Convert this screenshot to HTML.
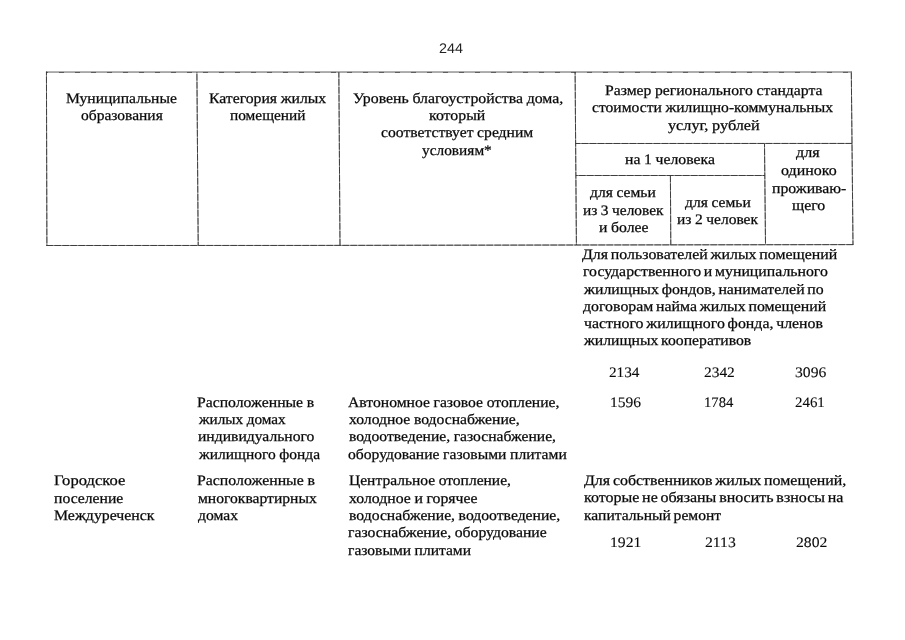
<!DOCTYPE html>
<html lang="ru">
<head>
<meta charset="utf-8">
<title>244</title>
<style>
html,body{margin:0;padding:0;background:#fff;}
body{width:905px;height:640px;position:relative;overflow:hidden;font-family:"Liberation Serif","DejaVu Serif",serif;font-size:14.5px;line-height:18px;color:#0a0a0a;-webkit-text-stroke:0.25px #0a0a0a;text-rendering:geometricPrecision;}
#pg{position:absolute;left:0;top:0;width:905px;height:640px;will-change:transform;}
.t{position:absolute;white-space:nowrap;margin:0;transform-origin:0 0;word-spacing:-1.1px;}
.n{-webkit-text-stroke-width:0.1px;}
.h{word-spacing:-0.3px;}
.p{font-family:"Liberation Sans","DejaVu Sans",sans-serif;font-size:14px;-webkit-text-stroke-width:0;color:#222;}
svg{position:absolute;left:0;top:0;}
</style>
</head>
<body>
<div id="pg">
<svg width="905" height="640" viewBox="0 0 905 640" fill="none">
<g stroke="#808080" stroke-width="1">
<polyline points="46.4,245.5 300,245.45 576.4,245 853.4,244.6"/>
<polyline points="46.45,71.6 46.9,245.9"/>
<polyline points="196.9,72 198.2,245.5"/>
<polyline points="338.85,72 340,245.3"/>
<polyline points="575.1,72 576.4,245"/>
<polyline points="851.3,71.5 853,245"/>
<polyline points="575.6,143.5 852.2,143.45"/>
<polyline points="575.9,175.5 765,175.5"/>
<polyline points="670.4,175.5 670.8,244.8"/>
<polyline points="764.5,143.5 765.5,244.7"/>
</g>
<g stroke="#2e2e2e" stroke-width="0.8" stroke-dasharray="6.6 1.4">
<polyline stroke-dashoffset="0" points="46.4,245.5 300,245.45 576.4,245 853.4,244.6"/>
<polyline stroke-dashoffset="3" points="46.45,71.6 46.9,245.9"/>
<polyline stroke-dashoffset="6" points="196.9,72 198.2,245.5"/>
<polyline stroke-dashoffset="1" points="338.85,72 340,245.3"/>
<polyline stroke-dashoffset="4" points="575.1,72 576.4,245"/>
<polyline stroke-dashoffset="7" points="851.3,71.5 853,245"/>
<polyline stroke-dashoffset="2" points="575.6,143.5 852.2,143.45"/>
<polyline stroke-dashoffset="5" points="575.9,175.5 765,175.5"/>
<polyline stroke-dashoffset="0" points="670.4,175.5 670.8,244.8"/>
<polyline stroke-dashoffset="3" points="764.5,143.5 765.5,244.7"/>
</g>
<polyline stroke="#5c5c5c" stroke-width="1" points="46,72.05 852,72"/>
<polyline stroke="#222" stroke-width="0.6" stroke-dasharray="5 11" stroke-dashoffset="3" points="46,72.45 852,72.4"/>
</svg>
<div class="t p" style="left:439.40px;top:39px;transform:scaleX(1.0250)">244</div>
<div class="t h" style="left:65.83px;top:90px;transform:scaleX(1.0765)">Муниципальные</div>
<div class="t h" style="left:80.83px;top:107px;transform:scaleX(1.0692)">образования</div>
<div class="t h" style="left:209.34px;top:90px;transform:scaleX(1.0837)">Категория жилых</div>
<div class="t h" style="left:230.33px;top:107px;transform:scaleX(1.0604)">помещений</div>
<div class="t h" style="left:352.84px;top:90px;transform:scaleX(1.0920)">Уровень благоустройства дома,</div>
<div class="t h" style="left:428.84px;top:107px;transform:scaleX(1.0922)">который</div>
<div class="t h" style="left:380.83px;top:124px;transform:scaleX(1.0790)">соответствует средним</div>
<div class="t h" style="left:421.83px;top:142px;transform:scaleX(1.0596)">условиям*</div>
<div class="t h" style="left:604.84px;top:82px;transform:scaleX(1.0808)">Размер регионального стандарта</div>
<div class="t h" style="left:592.33px;top:99px;transform:scaleX(1.0766)">стоимости жилищно-коммунальных</div>
<div class="t h" style="left:667.84px;top:117px;transform:scaleX(1.1189)">услуг, рублей</div>
<div class="t h" style="left:625.34px;top:151px;transform:scaleX(1.0864)">на 1 человека</div>
<div class="t h" style="left:795.84px;top:144px;transform:scaleX(1.1115)">для</div>
<div class="t h" style="left:780.84px;top:162px;transform:scaleX(1.1002)">одиноко</div>
<div class="t h" style="left:771.84px;top:180px;transform:scaleX(1.0864)">проживаю-</div>
<div class="t h" style="left:792.34px;top:197px;transform:scaleX(1.0941)">щего</div>
<div class="t h" style="left:590.33px;top:184px;transform:scaleX(1.0746)">для семьи</div>
<div class="t h" style="left:582.83px;top:202px;transform:scaleX(1.0617)">из 3 человек</div>
<div class="t h" style="left:599.34px;top:219px;transform:scaleX(1.0849)">и более</div>
<div class="t h" style="left:684.83px;top:194px;transform:scaleX(1.0746)">для семьи</div>
<div class="t h" style="left:677.33px;top:211px;transform:scaleX(1.0682)">из 2 человек</div>
<div class="t" style="left:582.34px;top:246px;transform:scaleX(1.0952)">Для пользователей жилых помещений</div>
<div class="t" style="left:583.34px;top:263px;transform:scaleX(1.0894)">государственного и муниципального</div>
<div class="t" style="left:583.93px;top:281px;transform:scaleX(1.0904)">жилищных фондов, нанимателей по</div>
<div class="t" style="left:582.84px;top:298px;transform:scaleX(1.0928)">договорам найма жилых помещений</div>
<div class="t" style="left:583.64px;top:315px;transform:scaleX(1.0947)">частного жилищного фонда, членов</div>
<div class="t" style="left:583.92px;top:332px;transform:scaleX(1.0829)">жилищных кооперативов</div>
<div class="t n" style="left:609.08px;top:364px;transform:scaleX(1.0517)">2134</div>
<div class="t n" style="left:704.08px;top:364px;transform:scaleX(1.0621)">2342</div>
<div class="t n" style="left:794.83px;top:364px;transform:scaleX(1.0793)">3096</div>
<div class="t n" style="left:609.51px;top:394px;transform:scaleX(1.0732)">1596</div>
<div class="t n" style="left:704.32px;top:394px;transform:scaleX(1.0103)">1784</div>
<div class="t n" style="left:794.83px;top:394px;transform:scaleX(1.0276)">2461</div>
<div class="t h" style="left:197.34px;top:394px;transform:scaleX(1.0843)">Расположенные в</div>
<div class="t h" style="left:199.13px;top:411px;transform:scaleX(1.0516)">жилых домах</div>
<div class="t h" style="left:198.08px;top:428px;transform:scaleX(1.0773)">индивидуального</div>
<div class="t h" style="left:199.15px;top:446px;transform:scaleX(1.0687)">жилищного фонда</div>
<div class="t h" style="left:347.83px;top:394px;transform:scaleX(1.0795)">Автономное газовое отопление,</div>
<div class="t h" style="left:348.58px;top:411px;transform:scaleX(1.0787)">холодное водоснабжение,</div>
<div class="t h" style="left:348.58px;top:428px;transform:scaleX(1.0753)">водоотведение, газоснабжение,</div>
<div class="t h" style="left:348.33px;top:446px;transform:scaleX(1.0775)">оборудование газовыми плитами</div>
<div class="t h" style="left:54.09px;top:472px;transform:scaleX(1.1416)">Городское</div>
<div class="t h" style="left:54.34px;top:490px;transform:scaleX(1.0820)">поселение</div>
<div class="t h" style="left:54.09px;top:507px;transform:scaleX(1.0919)">Междуреченск</div>
<div class="t h" style="left:197.34px;top:472px;transform:scaleX(1.0912)">Расположенные в</div>
<div class="t h" style="left:198.33px;top:490px;transform:scaleX(1.0762)">многоквартирных</div>
<div class="t h" style="left:198.33px;top:507px;transform:scaleX(1.0770)">домах</div>
<div class="t h" style="left:348.58px;top:472px;transform:scaleX(1.0707)">Центральное отопление,</div>
<div class="t h" style="left:348.59px;top:490px;transform:scaleX(1.0876)">холодное и горячее</div>
<div class="t h" style="left:348.59px;top:507px;transform:scaleX(1.0810)">водоснабжение, водоотведение,</div>
<div class="t h" style="left:348.34px;top:524px;transform:scaleX(1.0837)">газоснабжение, оборудование</div>
<div class="t h" style="left:348.33px;top:542px;transform:scaleX(1.0720)">газовыми плитами</div>
<div class="t" style="left:583.84px;top:472px;transform:scaleX(1.0974)">Для собственников жилых помещений,</div>
<div class="t" style="left:584.34px;top:489px;transform:scaleX(1.1025)">которые не обязаны вносить взносы на</div>
<div class="t" style="left:584.33px;top:507px;transform:scaleX(1.0754)">капитальный ремонт</div>
<div class="t n" style="left:609.75px;top:534px;transform:scaleX(1.0821)">1921</div>
<div class="t n" style="left:704.84px;top:534px;transform:scaleX(1.0821)">2113</div>
<div class="t n" style="left:795.83px;top:534px;transform:scaleX(1.0793)">2802</div>
</div>
</body>
</html>
